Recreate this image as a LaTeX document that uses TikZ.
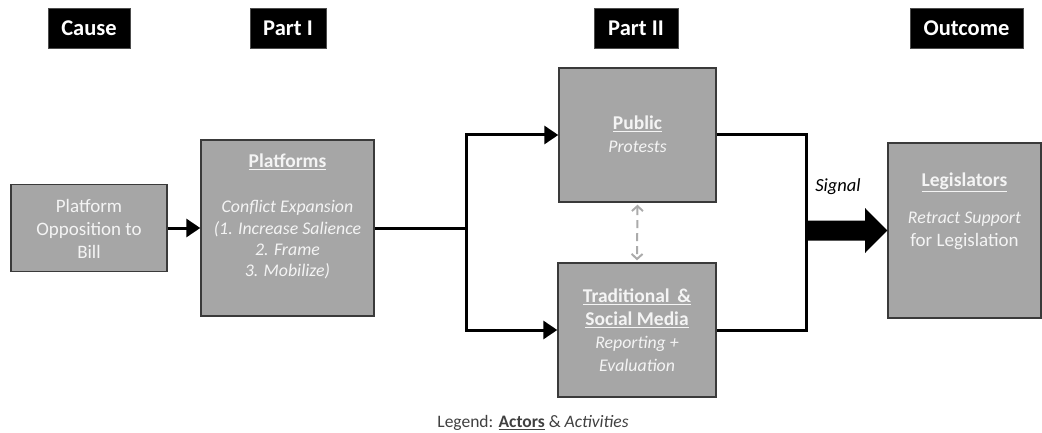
\documentclass[tikz,border=0pt]{standalone}
\usepackage{fontspec}
\setmainfont{Carlito}
\usetikzlibrary{arrows.meta,calc}
\definecolor{boxgray}{HTML}{A6A6A6}
\definecolor{txtwhite}{HTML}{F4F4F4}
\definecolor{edgegray}{HTML}{3A3A3A}
\definecolor{dashgray}{HTML}{ABABAB}
\definecolor{legendgray}{HTML}{404040}
\begin{document}
\begin{tikzpicture}[x=1pt,y=-1pt,
  hdr/.style={fill=black,draw=black!70,line width=0.8pt,text=white,font=\fontsize{22.5}{26}\selectfont\bfseries,inner sep=0pt,minimum height=40pt},
  box/.style={fill=boxgray,draw=edgegray,line width=1.4pt,inner sep=0pt},
  btxt/.style={text=txtwhite,align=center,inner sep=0pt,font=\fontsize{19}{23}\selectfont},
  ttl/.style={text=txtwhite,align=center,inner sep=0pt,font=\fontsize{19.5}{23}\selectfont\bfseries},
  conn/.style={line width=3pt,draw=black},
  tip/.style={-{Triangle[length=14pt,width=18pt]}},
  dashconn/.style={draw=dashgray,line width=2pt,dash pattern=on 8pt off 5pt,{Straight Barb[length=5pt,width=11pt]}-{Straight Barb[length=5pt,width=11pt]},shorten <=2pt,shorten >=2pt}
]
\useasboundingbox (0,0) rectangle (1042,433);

% headers
\node[hdr,minimum width=82pt] (hcause) at (89,28.5) {Cause};
\node[hdr,minimum width=76pt] (hpart1) at (288,28.5) {Part I};
\node[hdr,minimum width=84pt] (hpart2) at (636,28.5) {Part II};
\node[hdr,minimum width=113pt] (hout) at (966.5,28.5) {Outcome};

% boxes
\node[box,minimum width=156pt,minimum height=87pt] (opp) at (89,228) {};
\node[box,minimum width=173pt,minimum height=176pt] (plat) at (287.5,228) {};
\node[box,minimum width=157pt,minimum height=134pt] (pub) at (637.5,135) {};
\node[box,minimum width=158pt,minimum height=134pt] (med) at (637,330) {};
\node[box,minimum width=153pt,minimum height=175pt] (leg) at (964.5,230.5) {};

% texts
\node[btxt] (opptxt) at (89,229) {Platform\\Opposition to\\Bill};
\node[ttl] (plattl) at (287.5,162) {\underline{Platforms}};
\node[btxt,font=\fontsize{17.8}{21.3}\selectfont\itshape] (plattxt) at (287.5,240) {Conflict Expansion\\(1. Increase Salience\\2. Frame\\3. Mobilize)};
\node[ttl] (pubttl) at (637.5,124) {\underline{Public}};
\node[btxt,font=\fontsize{17.8}{22}\selectfont\itshape] (pubtxt) at (637.5,147) {Protests};
\node[ttl] (medttl) at (637,308) {\underline{Traditional \,\&}\\\underline{Social Media}};
\node[btxt,font=\fontsize{17.8}{22.5}\selectfont\itshape] (medtxt) at (637,354) {Reporting +\\Evaluation};
\node[ttl] (legttl) at (964.5,182) {\underline{Legislators}};
\node[btxt] (legtxt) at (964.5,231) {{\fontsize{17.8}{23}\selectfont\itshape Retract Support}\\for Legislation};

% connectors
\coordinate (split) at (466,228);
\coordinate (join) at (806,330);
\draw[conn,tip] (opp.east) -- (plat.west);
\draw[conn] (plat.east) -- (split);
\draw[conn,tip] (split) |- (pub.west);
\draw[conn,tip] (split) |- (med.west);
\draw[conn] (pub.east) -| (join) -- (med.east);
\draw[dashconn] (pub.south) -- (med.north);

% signal arrow
\coordinate (sigstart) at (805,230.5);
\fill[black] ($(sigstart)+(0,-10)$) -- (865,220.5) -- (865,208) -- (leg.west) -- (865,253) -- (865,240.5) -- ($(sigstart)+(0,10)$) -- cycle;
\node[font=\fontsize{18.5}{22}\selectfont\itshape,inner sep=0pt] (signal) at (838,187) {Signal};

% legend
\node[font=\fontsize{17.5}{20}\selectfont,text=legendgray,inner sep=0pt] (legend) at (533,423) {Legend: \textbf{\underline{Actors}} \& \textit{Activities}};
\end{tikzpicture}
\end{document}
